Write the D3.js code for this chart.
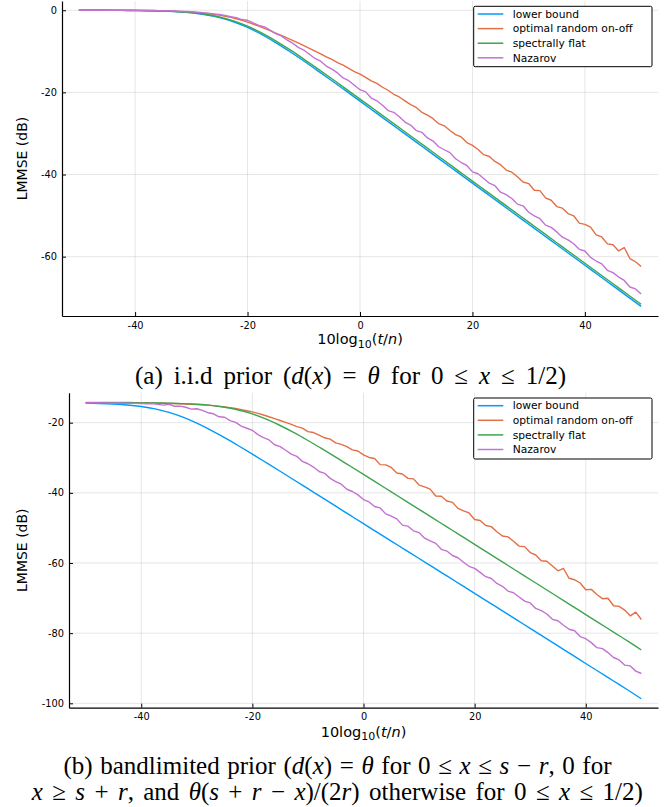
<!DOCTYPE html>
<html><head><meta charset="utf-8">
<script src="https://cdn.jsdelivr.net/npm/d3@7"></script>
<style>body{margin:0;background:#fff}svg{display:block}</style>
</head><body><svg id="c" width="665" height="807"></svg>
<script>
const seriesNames = ["lower bound","optimal random on-off","spectrally flat","Nazarov"];
const seriesColors = ["#009AFA","#E36F47","#3EA44E","#C371D2"];
const xTicks = [-40,-20,0,20,40];
const yTicksA = [0,-20,-40,-60];
const yTicksB = [-20,-40,-60,-80,-100];
const xLabel = "10log";

const xSmooth = [-50,-47.5,-45,-42.5,-40,-37.5,-35,-32.5,-30,-27.5,-25,-22.5,-20,-17.5,-15,-12.5,-10,-7.5,-5,-2.5,0,2.5,5,7.5,10,12.5,15,17.5,20,22.5,25,27.5,30,32.5,35,37.5,40,42.5,45,47.5,50];
const xFine = [-50,-49,-48,-47,-46,-45,-44,-43,-42,-41,-40,-39,-38,-37,-36,-35,-34,-33,-32,-31,-30,-29,-28,-27,-26,-25,-24,-23,-22,-21,-20,-19,-18,-17,-16,-15,-14,-13,-12,-11,-10,-9,-8,-7,-6,-5,-4,-3,-2,-1,0,1,2,3,4,5,6,7,8,9,10,11,12,13,14,15,16,17,18,19,20,21,22,23,24,25,26,27,28,29,30,31,32,33,34,35,36,37,38,39,40,41,42,43,44,45,46,47,48,49,50];

// (a) i.i.d prior
const iidLower = [-0.01,-0.01,-0.02,-0.04,-0.07,-0.12,-0.22,-0.38,-0.65,-1.10,-1.80,-2.81,-4.19,-5.89,-7.87,-10.05,-12.36,-14.75,-17.18,-19.65,-22.13,-24.62,-27.11,-29.61,-32.11,-34.60,-37.10,-39.60,-42.10,-44.60,-47.10,-49.60,-52.10,-54.60,-57.10,-59.60,-62.10,-64.60,-67.10,-69.60,-72.10];
const iidFlat = [-0.01,-0.01,-0.02,-0.04,-0.06,-0.11,-0.19,-0.34,-0.59,-0.99,-1.64,-2.58,-3.88,-5.53,-7.46,-9.60,-11.89,-14.27,-16.69,-19.15,-21.63,-24.12,-26.61,-29.11,-31.60,-34.10,-36.60,-39.10,-41.60,-44.10,-46.60,-49.10,-51.60,-54.10,-56.60,-59.10,-61.60,-64.10,-66.60,-69.10,-71.60];
const iidOnOff = [0.00,0.00,0.00,0.00,-0.01,-0.01,-0.01,-0.01,-0.02,-0.02,
-0.03,-0.04,-0.06,-0.08,-0.11,-0.15,-0.20,-0.26,-0.33,-0.41,
-0.50,-0.60,-0.72,-0.86,-1.02,-1.20,-1.45,-1.75,-2.08,-2.47,
-2.90,-3.38,-3.89,-4.43,-4.98,-5.55,-6.13,-6.73,-7.33,-7.95,
-8.60,-9.28,-9.98,-10.65,-11.33,-11.98,-12.78,-13.38,-14.17,-14.95,
-15.54,-16.34,-17.20,-17.80,-18.75,-19.48,-20.46,-21.12,-22.05,-22.99,
-23.68,-24.84,-25.54,-26.40,-27.62,-28.14,-29.27,-30.28,-30.85,-32.23,
-32.92,-33.91,-35.17,-35.61,-36.82,-37.60,-38.92,-39.43,-40.53,-41.83,
-42.20,-43.83,-43.91,-45.69,-46.27,-47.80,-48.20,-49.50,-50.05,-51.85,
-52.15,-52.80,-54.70,-55.20,-56.90,-57.10,-58.60,-57.78,-60.46,-61.24,-62.40];
const iidNazarov = [0.00,0.00,-0.01,-0.01,-0.01,-0.01,-0.02,-0.02,-0.03,-0.03,
-0.04,-0.05,-0.06,-0.08,-0.10,-0.12,-0.16,-0.20,-0.25,-0.31,
-0.38,-0.47,-0.58,-0.72,-0.88,-1.05,-1.26,-1.55,-1.81,-2.27,
-2.45,-3.09,-3.70,-4.06,-4.83,-5.70,-6.24,-7.24,-7.99,-9.05,
-9.69,-10.72,-11.74,-12.41,-13.60,-14.35,-15.27,-16.49,-17.15,-18.26,
-19.35,-19.88,-21.37,-22.05,-23.12,-24.43,-24.85,-25.94,-27.22,-27.96,
-29.30,-29.73,-31.09,-31.85,-33.24,-33.97,-34.67,-36.15,-37.08,-37.79,
-39.36,-39.82,-40.95,-42.12,-42.73,-44.30,-44.91,-45.85,-47.21,-47.62,
-49.18,-50.06,-50.76,-52.33,-52.88,-53.97,-55.27,-55.91,-56.85,-58.21,
-58.62,-60.18,-61.06,-61.76,-63.33,-63.88,-64.97,-65.79,-67.38,-67.85,-69.09];

// (b) bandlimited prior
const blLower = [-14.42,-14.51,-14.67,-14.94,-15.38,-16.06,-17.07,-18.42,-20.12,-22.09,-24.26,-26.57,-28.95,-31.39,-33.85,-36.33,-38.82,-41.31,-43.80,-46.30,-48.80,-51.28,-53.76,-56.24,-58.72,-61.20,-63.68,-66.16,-68.64,-71.14,-73.64,-76.14,-78.64,-81.14,-83.64,-86.14,-88.64,-91.14,-93.64,-96.14,-98.70];
const blFlat = [-14.30,-14.31,-14.31,-14.32,-14.35,-14.38,-14.45,-14.56,-14.75,-15.07,-15.59,-16.38,-17.51,-19.00,-20.80,-22.85,-25.08,-27.42,-29.82,-32.27,-34.74,-37.22,-39.72,-42.20,-44.70,-47.20,-49.70,-52.20,-54.70,-57.20,-59.70,-62.20,-64.70,-67.20,-69.70,-72.20,-74.70,-77.20,-79.70,-82.20,-84.80];
const blOnOff = [-14.20,-14.20,-14.20,-14.21,-14.21,-14.22,-14.23,-14.24,-14.26,-14.28,
-14.30,-14.33,-14.37,-14.41,-14.45,-14.50,-14.55,-14.60,-14.66,-14.73,
-14.80,-14.88,-15.00,-15.14,-15.31,-15.50,-15.72,-15.97,-16.26,-16.58,
-16.93,-17.35,-17.82,-18.31,-18.83,-19.37,-19.93,-20.50,-21.14,-21.55,
-22.54,-22.81,-23.54,-24.30,-24.70,-25.75,-26.17,-26.82,-27.76,-28.08,
-29.17,-29.92,-30.20,-31.95,-32.02,-32.75,-34.35,-34.64,-35.88,-36.01,
-37.78,-38.30,-38.95,-40.88,-40.97,-42.33,-42.70,-44.43,-45.12,-45.73,
-47.60,-47.88,-49.30,-49.63,-51.08,-52.32,-52.56,-53.79,-55.19,-55.33,
-57.01,-57.72,-59.36,-59.48,-60.88,-62.22,-61.56,-64.36,-64.78,-65.70,
-67.63,-67.52,-68.98,-70.17,-70.06,-72.19,-72.35,-73.42,-75.05,-74.02,-76.10];
const blNazarov = [-14.32,-14.33,-14.33,-14.35,-14.36,-14.37,-14.39,-14.42,-14.45,-14.48,
-14.53,-14.59,-14.52,-14.79,-14.98,-14.75,-15.33,-15.28,-15.59,-16.13,
-16.02,-16.48,-17.16,-17.46,-18.31,-18.45,-19.40,-19.92,-20.99,-21.58,
-22.17,-23.41,-24.23,-24.91,-26.29,-26.80,-27.85,-28.95,-29.60,-31.04,
-31.71,-32.64,-33.92,-34.44,-35.87,-36.77,-37.53,-38.97,-39.61,-40.57,
-41.92,-42.60,-43.90,-44.30,-46.00,-46.66,-47.42,-49.20,-49.50,-50.82,
-51.34,-52.94,-53.70,-54.40,-56.10,-56.60,-57.86,-58.50,-59.78,-60.94,
-61.52,-62.66,-63.90,-64.42,-65.82,-66.64,-68.00,-68.48,-69.70,-70.88,
-71.38,-72.94,-73.60,-74.54,-76.06,-76.46,-77.76,-78.90,-79.30,-80.98,
-81.58,-82.70,-84.14,-84.40,-85.54,-86.94,-87.62,-89.10,-89.34,-90.82,-91.50];

const captionA = [["(a) i.i.d prior (",0],["d",1],["(",0],["x",1],[") = ",0],["θ",1],[" for 0 ≤ ",0],["x",1],[" ≤ 1/2)",0]];
const captionB1 = [["(b) bandlimited prior (",0],["d",1],["(",0],["x",1],[") = ",0],["θ",1],[" for 0 ≤ ",0],["x",1],[" ≤ ",0],["s",1],[" − ",0],["r",1],[", 0 for",0]];
const captionB2 = [["x",1],[" ≥ ",0],["s",1],[" + ",0],["r",1],[", and ",0],["θ",1],["(",0],["s",1],[" + ",0],["r",1],[" − ",0],["x",1],[")/(2",0],["r",1],[") otherwise for 0 ≤ ",0],["x",1],[" ≤ 1/2)",0]];

const svg = d3.select("#c");
const SANS = "'DejaVu Sans', sans-serif";
const SERIF = "'Liberation Serif', 'Times New Roman', serif";

function panel(cfg) {
  const x = d3.scaleLinear().domain([-53, 53]).range([cfg.left, cfg.right]);
  const y = d3.scaleLinear().domain(cfg.yDomain).range([cfg.bottom, cfg.top]);
  const g = svg.append("g");
  g.append("g").selectAll("line").data(xTicks).join("line")
    .attr("x1", d => x(d)).attr("x2", d => x(d)).attr("y1", cfg.top).attr("y2", cfg.bottom)
    .attr("stroke", "#000").attr("stroke-opacity", 0.1).attr("stroke-width", 1);
  g.append("g").selectAll("line").data(cfg.yTicks).join("line")
    .attr("y1", d => y(d)).attr("y2", d => y(d)).attr("x1", cfg.left).attr("x2", cfg.right)
    .attr("stroke", "#000").attr("stroke-opacity", 0.1).attr("stroke-width", 1);
  const series = [
    {xs: xSmooth, ys: cfg.data[0], smooth: true},
    {xs: xFine, ys: cfg.data[1], smooth: false},
    {xs: xSmooth, ys: cfg.data[2], smooth: true},
    {xs: xFine, ys: cfg.data[3], smooth: false}
  ];
  series.forEach((s, i) => {
    const line = d3.line().x(d => x(d[0])).y(d => y(d[1]))
      .curve(s.smooth ? d3.curveMonotoneX : d3.curveLinear);
    g.append("path").datum(s.xs.map((v, k) => [v, s.ys[k]]))
      .attr("d", line).attr("fill", "none").attr("stroke", seriesColors[i])
      .attr("stroke-width", 1.4).attr("stroke-linejoin", "round");
  });
  const fmt = d => String(d);
  const ax = g.append("g").attr("transform", `translate(0,${cfg.bottom})`)
    .call(d3.axisBottom(x).tickValues(xTicks).tickFormat(fmt).tickSize(-4).tickSizeOuter(0).tickPadding(cfg.xPad));
  const ay = g.append("g").attr("transform", `translate(${cfg.left},0)`)
    .call(d3.axisLeft(y).tickValues(cfg.yTicks).tickFormat(fmt).tickSize(-4).tickSizeOuter(0).tickPadding(5));
  [ax, ay].forEach(a => {
    a.select(".domain").attr("stroke", "#000").attr("stroke-width", 1.2);
    a.selectAll(".tick line").attr("stroke", "#000").attr("stroke-width", 1);
    a.selectAll(".tick text").attr("font-family", SANS).attr("font-size", 9.8).attr("fill", "#000");
  });
  const xl = g.append("text").attr("x", (cfg.left + cfg.right) / 2).attr("y", cfg.xLabelY)
    .attr("text-anchor", "middle").attr("font-family", SANS).attr("font-size", 14.5).attr("fill", "#000");
  xl.append("tspan").text(xLabel);
  xl.append("tspan").attr("font-size", 11).attr("dy", 3.5).text("10");
  xl.append("tspan").attr("dy", -3.5).text("(");
  xl.append("tspan").attr("font-style", "italic").text("t");
  xl.append("tspan").text("/");
  xl.append("tspan").attr("font-style", "italic").text("n");
  xl.append("tspan").text(")");
  g.append("text").attr("transform", `translate(27,${(cfg.top + cfg.bottom) / 2}) rotate(-90)`)
    .attr("text-anchor", "middle").attr("font-family", SANS).attr("font-size", 14).attr("fill", "#000")
    .text("LMMSE (dB)");
  const L = cfg.legend;
  const lg = g.append("g");
  lg.append("rect").attr("x", L.x).attr("y", L.y).attr("width", L.w).attr("height", L.h)
    .attr("rx", 1.5).attr("fill", "#fff").attr("stroke", "#000").attr("stroke-width", 1);
  seriesNames.forEach((n, i) => {
    const yy = L.y + 7.7 + i * 14.6;
    lg.append("line").attr("x1", L.x + 4).attr("x2", L.x + 29.6).attr("y1", yy).attr("y2", yy)
      .attr("stroke", seriesColors[i]).attr("stroke-width", 1.5);
    lg.append("text").attr("x", L.x + 39).attr("y", yy).attr("dy", "0.35em")
      .attr("font-family", SANS).attr("font-size", 10.7).attr("fill", "#000").text(n);
  });
}

panel({left: 62, right: 658, top: 1, bottom: 316, yDomain: [-74.45, 2.25], yTicks: yTicksA,
  data: [iidLower, iidOnOff, iidFlat, iidNazarov], xPad: 6, xLabelY: 344,
  legend: {x: 473.7, y: 6.3, w: 178.3, h: 60.4}});
panel({left: 69, right: 658, top: 392.7, bottom: 707.7, yDomain: [-101.25, -11.45], yTicks: yTicksB,
  data: [blLower, blOnOff, blFlat, blNazarov], xPad: 5.5, xLabelY: 736.5,
  legend: {x: 473.7, y: 398, w: 178.3, h: 61}});

function caption(segs, cx, by, width) {
  const t = svg.append("text").attr("x", cx).attr("y", by).attr("text-anchor", "middle")
    .attr("font-family", SERIF).attr("font-size", 25).attr("fill", "#000")
    .style("white-space", "pre");
  segs.forEach(s => {
    const sp = t.append("tspan").text(s[0]);
    if (s[1]) sp.attr("font-style", "italic");
  });
  const w = t.node().getComputedTextLength();
  const nSpaces = segs.map(s => s[0]).join("").split(" ").length - 1;
  if (w < width && nSpaces > 0) t.style("word-spacing", ((width - w) / nSpaces).toFixed(2) + "px");
}
caption(captionA, 350.5, 384, 431);
caption(captionB1, 337.5, 774, 548);
caption(captionB2, 337.3, 800, 611);
</script></body></html>
